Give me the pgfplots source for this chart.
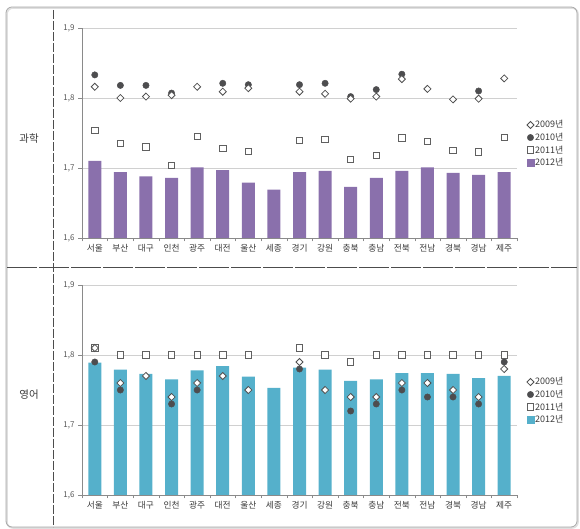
\documentclass[border=0pt]{standalone}
\usepackage{pgfplots}
\pgfplotsset{compat=1.18}
\usepackage{pgfplotstable}
\usepackage{fontspec}
\setmainfont{Noto Sans CJK KR}
\definecolor{purpleC}{HTML}{8A70AC}
\definecolor{blueC}{HTML}{55B0CB}
\definecolor{circC}{HTML}{4D4D4F}
\definecolor{markD}{HTML}{505050}
\definecolor{sqC}{HTML}{606060}
\definecolor{txtC}{HTML}{3A3A3A}
\definecolor{gridC}{HTML}{D0D0D0}
\definecolor{axC}{HTML}{8A8A8A}

\pgfplotstableread{
i a b c d
0 1.816 1.833 1.754 1.710
1 1.800 1.818 1.735 1.694
2 1.802 1.818 1.730 1.688
3 1.804 1.807 1.704 1.686
4 1.816 nan 1.745 1.701
5 1.809 1.821 1.728 1.697
6 1.814 1.819 1.724 1.679
7 nan nan nan 1.669
8 1.809 1.819 1.739 1.694
9 1.806 1.821 1.741 1.696
10 1.799 1.802 1.712 1.673
11 1.802 1.812 1.718 1.686
12 1.827 1.834 1.743 1.696
13 1.813 nan 1.738 1.701
14 1.798 nan 1.725 1.693
15 1.799 1.810 1.723 1.690
16 1.828 nan 1.744 1.694
}\sci

\pgfplotstableread{
i a b c d
0 1.81 1.79 1.81 1.789
1 1.76 1.75 1.80 1.779
2 1.77 nan 1.80 1.773
3 1.74 1.73 1.80 1.765
4 1.76 1.75 1.80 1.778
5 1.77 nan 1.80 1.784
6 1.75 nan 1.80 1.769
7 nan nan nan 1.753
8 1.79 1.78 1.81 1.782
9 1.75 nan 1.80 1.779
10 1.74 1.72 1.79 1.763
11 1.74 1.73 1.80 1.765
12 1.76 1.75 1.80 1.774
13 1.76 1.74 1.80 1.774
14 1.75 1.74 1.80 1.773
15 1.74 1.73 1.80 1.767
16 1.78 1.79 1.80 1.770
}\eng

\pgfplotsset{
  panel/.style={
    anchor=south west, scale only axis, width=435pt, height=210pt,
    xmin=-0.5, xmax=16.5, ymin=1.6, ymax=1.9,
    ytick={1.6,1.7,1.8,1.9},
    xtick={0,...,16},
    xticklabels={서울,부산,대구,인천,광주,대전,울산,세종,경기,강원,충북,충남,전북,전남,경북,경남,제주},
    minor xtick={-0.5,0.5,...,16.5},
    axis x line*=bottom, axis y line*=left,
    axis line style={axC,-},
    ymajorgrids, grid style={gridC, line width=0.6pt},
    tick align=outside,
    major tick length=4pt, minor tick length=3.5pt,
    major x tick style={draw=none},
    minor x tick style={axC},
    ytick style={axC},
    xticklabel style={font=\fontsize{8.7}{9}\selectfont, text=txtC, yshift=1pt},
    yticklabel style={font=\fontsize{8}{9}\selectfont, text=txtC!85},
    /pgf/number format/.cd, use comma, fixed, fixed zerofill, precision=1, assume math mode=true,
    /pgfplots/.cd,
    legend style={at={(rel axis cs:1.022,0.565)}, anchor=north west, draw=none, fill=none,
      font=\fontsize{9}{10}\selectfont, inner sep=0pt, row sep=1.6pt,
      nodes={inner sep=1pt, text=txtC}},
    legend cell align=left,
  },
  dia/.style={mark=square*, mark size=2.5pt, mark options={rotate=45, fill=white, draw=markD, line width=0.8pt}},
  circ/.style={mark=*, mark size=3.2pt, mark options={fill=circC, draw=circC}},
  sq/.style={mark=square*, mark size=3.2pt, mark options={fill=white, draw=sqC, line width=0.8pt}},
}

\begin{document}
\begin{tikzpicture}[x=1pt,y=1pt]
\useasboundingbox (0,0) rectangle (580,529);
% frame
\draw[gray!25, line width=1.6pt, rounded corners=6pt] (7,1) rectangle (578,521);
\draw[gray!70, line width=0.8pt, rounded corners=6pt] (6,2) rectangle (577,522);
\draw[black!70, line width=0.7pt, dash pattern=on 9pt off 2pt] (53,519) -- (53,2);
\draw[black!70, line width=0.7pt, dash pattern=on 30pt off 2pt] (7,262) -- (577,262);
\node[font=\fontsize{10.5}{12}\selectfont, text=txtC] at (29,390) {과학};
\node[font=\fontsize{10.5}{12}\selectfont, text=txtC] at (29,134) {영어};

% top panel
\begin{axis}[panel, at={(82pt,291pt)}]
\addlegendimage{legend image code/.code={\draw[mark=square*, mark size=2.5pt, mark options={rotate=45,fill=white,draw=markD,line width=0.8pt}] plot coordinates {(3.5pt,0pt)};}}
\addlegendentry{2009년}
\addlegendimage{legend image code/.code={\draw[mark=*, mark size=3.2pt, mark options={fill=circC,draw=circC}] plot coordinates {(3.5pt,0pt)};}}
\addlegendentry{2010년}
\addlegendimage{legend image code/.code={\draw[mark=square*, mark size=3.2pt, mark options={fill=white,draw=sqC,line width=0.8pt}] plot coordinates {(3.5pt,0pt)};}}
\addlegendentry{2011년}
\addlegendimage{legend image code/.code={\fill[purpleC] (0pt,-3.5pt) rectangle (7pt,3.5pt);}}
\addlegendentry{2012년}
\addplot[ybar, bar width=13pt, bar shift=0pt, fill=purpleC, draw=none, forget plot] table[x=i,y=d] {\sci};
\addplot[only marks, circ, forget plot] table[x=i,y=b] {\sci};
\addplot[only marks, sq, forget plot] table[x=i,y=c] {\sci};
\addplot[only marks, dia, forget plot] table[x=i,y=a] {\sci};
\end{axis}

% bottom panel
\begin{axis}[panel, at={(82pt,34pt)}]
\addlegendimage{legend image code/.code={\draw[mark=square*, mark size=2.5pt, mark options={rotate=45,fill=white,draw=markD,line width=0.8pt}] plot coordinates {(3.5pt,0pt)};}}
\addlegendentry{2009년}
\addlegendimage{legend image code/.code={\draw[mark=*, mark size=3.2pt, mark options={fill=circC,draw=circC}] plot coordinates {(3.5pt,0pt)};}}
\addlegendentry{2010년}
\addlegendimage{legend image code/.code={\draw[mark=square*, mark size=3.2pt, mark options={fill=white,draw=sqC,line width=0.8pt}] plot coordinates {(3.5pt,0pt)};}}
\addlegendentry{2011년}
\addlegendimage{legend image code/.code={\fill[blueC] (0pt,-3.5pt) rectangle (7pt,3.5pt);}}
\addlegendentry{2012년}
\addplot[ybar, bar width=13pt, bar shift=0pt, fill=blueC, draw=none, forget plot] table[x=i,y=d] {\eng};
\addplot[only marks, circ, forget plot] table[x=i,y=b] {\eng};
\addplot[only marks, sq, forget plot] table[x=i,y=c] {\eng};
\addplot[only marks, dia, forget plot] table[x=i,y=a] {\eng};
\end{axis}
\end{tikzpicture}
\end{document}
